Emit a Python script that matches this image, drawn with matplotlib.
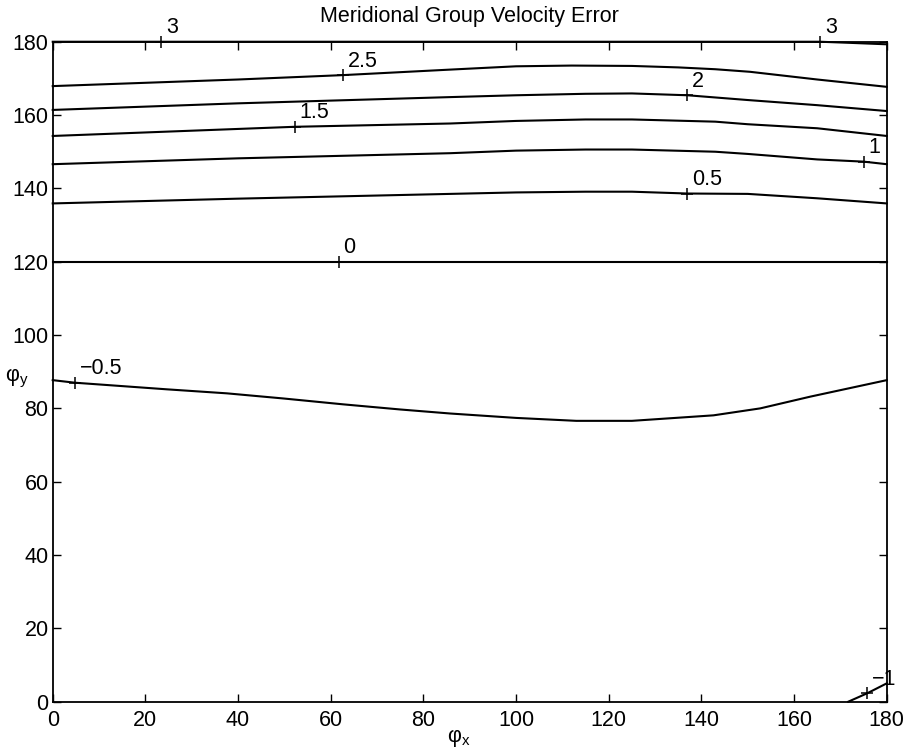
import matplotlib
matplotlib.use("Agg")
import matplotlib.pyplot as plt

plt.rcParams['font.family'] = ['Liberation Sans', 'DejaVu Sans']
plt.rcParams['mathtext.fontset'] = 'custom'
plt.rcParams['mathtext.rm'] = 'Liberation Sans'

# contour lines (phi_x, phi_y)
c3_x = [0, 40, 80, 120, 160, 165.6, 172, 180]
c3_y = [180, 180, 180, 180, 180, 180, 179.7, 179.3]

c25_x = [0, 20, 40, 62.7, 85.8, 100, 112, 125, 135, 143, 150.5, 165, 180]
c25_y = [167.9, 168.8, 169.7, 170.9, 172.4, 173.3, 173.5, 173.4, 173.0, 172.5, 171.8, 169.7, 167.7]

c2_x = [0, 40, 85.8, 100, 115, 125, 137, 150, 165, 180]
c2_y = [161.4, 163.2, 164.9, 165.4, 165.8, 165.9, 165.4, 164.1, 162.7, 161.1]

c15_x = [0, 52.2, 85.8, 100, 115, 125, 143, 150, 165, 180]
c15_y = [154.3, 156.8, 157.7, 158.4, 158.8, 158.8, 158.2, 157.5, 156.4, 154.3]

c1_x = [0, 40, 85.8, 100, 115, 125, 143, 150, 165, 175, 180]
c1_y = [146.6, 148.2, 149.6, 150.3, 150.6, 150.6, 150.0, 149.4, 147.9, 147.3, 146.6]

c05_x = [0, 40, 85.8, 100, 115, 125, 137, 150, 165, 180]
c05_y = [135.9, 137.2, 138.5, 138.9, 139.1, 139.1, 138.6, 138.5, 137.3, 135.9]

c0_x = [0, 180]
c0_y = [120, 120]

cm05_x = [0, 4.8, 24.6, 37.6, 49.8, 62.7, 75, 85.8, 100, 113, 125, 142.6, 152.7, 163.5, 180]
cm05_y = [87.7, 87.0, 85.2, 84.1, 82.7, 81.1, 79.7, 78.6, 77.4, 76.6, 76.6, 78.1, 80.0, 83.2, 87.7]

cm1_x = [171.7, 175.8, 180]
cm1_y = [0, 2.3, 5.0]

lines_x = [c3_x, c25_x, c2_x, c15_x, c1_x, c05_x, c0_x, cm05_x, cm1_x]
lines_y = [c3_y, c25_y, c2_y, c15_y, c1_y, c05_y, c0_y, cm05_y, cm1_y]

# contour labels (text, x, y of the "+")
lab_text = ['3', '3', '2.5', '2', '1.5', '1', '0.5', '0', '\u22120.5', '\u22121']
lab_x = [23.4, 165.6, 62.7, 137, 52.2, 175, 137, 61.7, 4.8, 175.8]
lab_y = [180, 180, 170.9, 165.4, 156.8, 147.3, 138.6, 120, 87.0, 2.3]

ticks = [0, 20, 40, 60, 80, 100, 120, 140, 160, 180]

fig = plt.figure(figsize=(9.09, 7.52), dpi=100)
ax = fig.add_axes([0.058, 0.0669, 0.9175, 0.8776])

for xs, ys in zip(lines_x, lines_y):
    ax.plot(xs, ys, color='black', lw=1.5, clip_on=False, zorder=3)

for t, x, y in zip(lab_text, lab_x, lab_y):
    ax.plot(x, y, marker='+', color='black', ms=8, mew=1.1, clip_on=False, zorder=4)
    ax.annotate(t, (x, y), xytext=(3.5, 2.5), textcoords='offset points',
                ha='left', va='bottom', fontsize=15.5)

ax.set_xlim(0, 180)
ax.set_ylim(0, 180)
ax.set_xticks(ticks)
ax.set_yticks(ticks)
ax.tick_params(direction='in', length=6, width=1, top=True, right=True, labelsize=15.5)
ax.tick_params(axis='x', pad=6)
ax.tick_params(axis='y', pad=3)
for s in ax.spines.values():
    s.set_linewidth(1.3)

ax.set_title('Meridional Group Velocity Error', fontsize=15.5, pad=14)
fig.text(0.505, 0.004, '\u03c6$_\\mathregular{x}$', fontsize=15.5, ha='center', va='bottom')
fig.text(0.006, 0.497, '\u03c6$_\\mathregular{y}$', fontsize=15.5, ha='left', va='center')

plt.savefig('out.png')
